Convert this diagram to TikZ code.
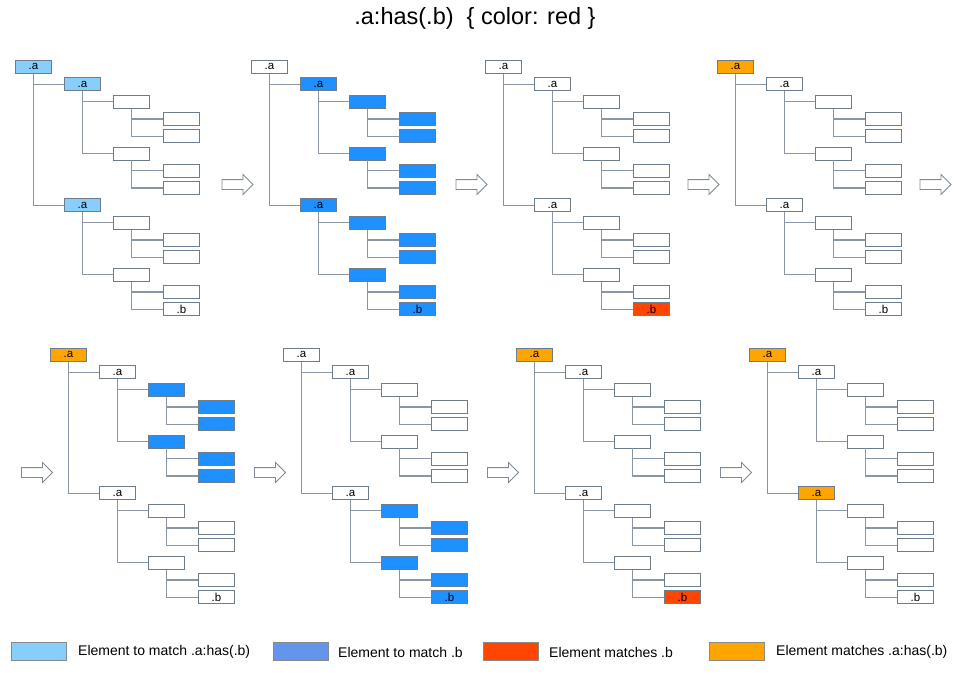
\documentclass[tikz,border=0pt]{standalone}
\usepackage{fontspec}
\setmainfont{Liberation Sans}
\usetikzlibrary{shapes.arrows}
\definecolor{boxgray}{HTML}{6E7D8C}
\definecolor{conngray}{HTML}{8A96A3}
\definecolor{lskyblue}{HTML}{87CEFA}
\definecolor{dblue}{HTML}{1E90FF}
\definecolor{cfblue}{HTML}{6495ED}
\definecolor{ored}{HTML}{FF4500}
\definecolor{orng}{HTML}{FFA500}
\definecolor{arrgray}{HTML}{7F8A96}
\definecolor{leggray}{HTML}{8A8A8A}
\tikzset{
  treebox/.style={draw=boxgray, line width=0.9pt, minimum width=36pt, minimum height=13pt,
    inner sep=0pt, anchor=north west, font=\fontsize{11.5}{11.5}\selectfont},
  conn/.style={draw=conngray, line width=1.3pt},
  blockarrow/.style={single arrow, draw=arrgray, fill=white, line width=0.8pt,
    minimum height=31pt, minimum width=19pt, inner xsep=0pt, inner ysep=4.5pt,
    single arrow head extend=5pt},
  legbox/.style={draw=leggray, line width=0.8pt, minimum width=55pt, minimum height=18pt, inner sep=0pt},
  legtext/.style={anchor=west, inner sep=0pt, font=\fontsize{14}{14}\selectfont},
}
\newcommand\drawtree[9]{%
\begin{scope}[shift={(#2,#3)}]
\node[treebox,fill=#4] (#1r)  at (0,0)      {.a};
\node[treebox,fill=#5] (#1a1) at (49,17.3)  {.a};
\node[treebox,fill=#6] (#1b1) at (98,34.6)  {};
\node[treebox,fill=#6] (#1c1) at (148,51.9) {};
\node[treebox,fill=#6] (#1c2) at (148,69.2) {};
\node[treebox,fill=#6] (#1b2) at (98,86.5)  {};
\node[treebox,fill=#6] (#1c3) at (148,103.8) {};
\node[treebox,fill=#6] (#1c4) at (148,121.1) {};
\node[treebox,fill=#7] (#1a2) at (49,138.4) {.a};
\node[treebox,fill=#8] (#1b3) at (98,155.7) {};
\node[treebox,fill=#8] (#1c5) at (148,173)  {};
\node[treebox,fill=#8] (#1c6) at (148,190.3) {};
\node[treebox,fill=#8] (#1b4) at (98,207.6) {};
\node[treebox,fill=#8] (#1c7) at (148,224.9) {};
\node[treebox,fill=#9] (#1c8) at (148,242.2) {.b};
\draw[conn] (#1r.south) |- (#1a1.west);
\draw[conn] (#1r.south) |- (#1a2.west);
\draw[conn] (#1a1.south) |- (#1b1.west);
\draw[conn] (#1a1.south) |- (#1b2.west);
\draw[conn] (#1b1.south) |- (#1c1.west);
\draw[conn] (#1b1.south) |- (#1c2.west);
\draw[conn] (#1b2.south) |- (#1c3.west);
\draw[conn] (#1b2.south) |- (#1c4.west);
\draw[conn] (#1a2.south) |- (#1b3.west);
\draw[conn] (#1a2.south) |- (#1b4.west);
\draw[conn] (#1b3.south) |- (#1c5.west);
\draw[conn] (#1b3.south) |- (#1c6.west);
\draw[conn] (#1b4.south) |- (#1c7.west);
\draw[conn] (#1b4.south) |- (#1c8.west);
\end{scope}}
\begin{document}
\begin{tikzpicture}[x=1pt,y=-1pt]
\useasboundingbox[fill=white] (0,0) rectangle (961,675);
\node (title) at (475,18) {\fontsize{23.5}{23.5}\selectfont .a:has(.b)~~\{ color: red \}};
% top row
\drawtree{ta}{15}{60}{lskyblue}{lskyblue}{white}{lskyblue}{white}{white}
\drawtree{tb}{251}{60}{white}{dblue}{dblue}{dblue}{dblue}{dblue}
\drawtree{tc}{485}{60}{white}{white}{white}{white}{white}{ored}
\drawtree{td}{717}{60}{orng}{white}{white}{white}{white}{white}
% bottom row
\drawtree{ba}{50}{348}{orng}{white}{dblue}{white}{white}{white}
\drawtree{bb}{283}{348}{white}{white}{white}{white}{dblue}{dblue}
\drawtree{bc}{516}{348}{orng}{white}{white}{white}{white}{ored}
\drawtree{bd}{749}{348}{orng}{white}{white}{orng}{white}{white}
% arrows
\node[blockarrow] (ar1) at (235,184.5) {};
\node[blockarrow] (ar2) at (469,184.5) {};
\node[blockarrow] (ar3) at (701,184.5) {};
\node[blockarrow] (ar4) at (933,184.5) {};
\node[blockarrow] (ar5) at (34.5,472.5) {};
\node[blockarrow] (ar6) at (267.5,472.5) {};
\node[blockarrow] (ar7) at (500.5,472.5) {};
\node[blockarrow] (ar8) at (733.5,472.5) {};
% legend
\node[legbox,fill=lskyblue] (lg1) at (39,651) {};
\node[legtext] (lt1) at (78,652) {Element to match .a:has(.b)};
\node[legbox,fill=cfblue] (lg2) at (300.5,651) {};
\node[legtext] (lt2) at (338,652) {Element to match .b};
\node[legbox,fill=ored] (lg3) at (510.5,651) {};
\node[legtext] (lt3) at (549,652) {Element matches .b};
\node[legbox,fill=orng] (lg4) at (736.5,651) {};
\node[legtext] (lt4) at (776,652) {Element matches .a:has(.b)};
\end{tikzpicture}
\end{document}
